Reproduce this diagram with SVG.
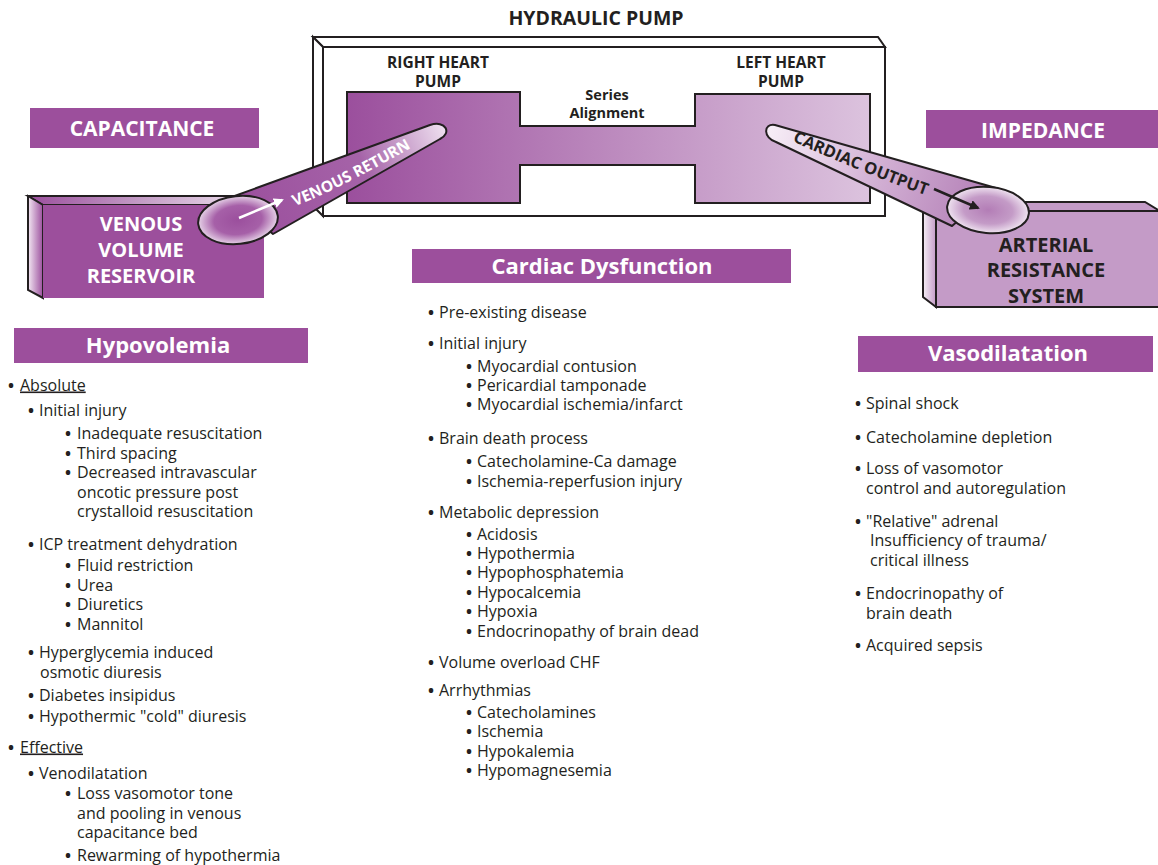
<svg xmlns="http://www.w3.org/2000/svg" width="1158" height="865" viewBox="0 0 1158 865">
<style>
.hdr{fill:#9c4f9c}
.ht{font-family:'Open Sans','Liberation Sans',sans-serif;font-weight:bold;fill:#fff;text-anchor:middle}
.bt{font-family:'Open Sans','Liberation Sans',sans-serif;font-weight:bold;fill:#231f20;text-anchor:middle}
.li{font-family:'Open Sans','Liberation Sans',sans-serif;font-size:16px;fill:#231f20}
.b{font-weight:bold}
.ln{stroke:#231f20;stroke-width:2}
</style>
<defs>
<linearGradient id="pumpG" x1="347" y1="0" x2="870" y2="0" gradientUnits="userSpaceOnUse">
<stop offset="0" stop-color="#9b4f9d"/><stop offset="1" stop-color="#dcc3de"/></linearGradient>
<linearGradient id="vrG" x1="240" y1="220" x2="446" y2="130" gradientUnits="userSpaceOnUse">
<stop offset="0" stop-color="#9b4f9d"/><stop offset="0.6" stop-color="#a563a8"/><stop offset="1" stop-color="#efe0f0"/></linearGradient>
<linearGradient id="coG" x1="768" y1="132" x2="990" y2="210" gradientUnits="userSpaceOnUse">
<stop offset="0" stop-color="#f7eef7"/><stop offset="0.5" stop-color="#d2b0d4"/><stop offset="1" stop-color="#b27db5"/></linearGradient>
<radialGradient id="vEl" cx="0.5" cy="0.5" r="0.5">
<stop offset="0" stop-color="#9b4f9d"/><stop offset="0.6" stop-color="#a660a8"/><stop offset="1" stop-color="#e6d2e7"/></radialGradient>
<radialGradient id="aEl" cx="0.5" cy="0.5" r="0.5">
<stop offset="0" stop-color="#b37db6"/><stop offset="0.6" stop-color="#c49bc7"/><stop offset="1" stop-color="#efe3f0"/></radialGradient>
<linearGradient id="sideV" x1="0" y1="0" x2="1" y2="0">
<stop offset="0" stop-color="#f3e8f3"/><stop offset="1" stop-color="#9b4f9d"/></linearGradient>
<linearGradient id="topV" x1="0" y1="0" x2="1" y2="0">
<stop offset="0" stop-color="#9b4f9d"/><stop offset="0.5" stop-color="#c59fc7"/><stop offset="1" stop-color="#f3e8f3"/></linearGradient>
<linearGradient id="sideA" x1="0" y1="0" x2="1" y2="0">
<stop offset="0" stop-color="#f6eff6"/><stop offset="1" stop-color="#c49bc7"/></linearGradient>
<marker id="arW" viewBox="0 0 10 10" refX="8" refY="5" markerWidth="4" markerHeight="4" orient="auto" markerUnits="strokeWidth">
<path d="M0,0 L10,5 L0,10 Z" fill="#fff"/></marker>
<marker id="arK" viewBox="0 0 10 10" refX="8" refY="5" markerWidth="4" markerHeight="4" orient="auto" markerUnits="strokeWidth">
<path d="M0,0 L10,5 L0,10 Z" fill="#231f20"/></marker>
</defs>
<rect width="1158" height="865" fill="#fff"/>

<g id="hydraulic-pump">
<text class="bt" x="596" y="25" font-size="19.5">HYDRAULIC PUMP</text>
<path d="M313,37 L878,37 L885,47 L323,47 Z" fill="#fff" class="ln"/>
<path d="M313,37 L313,206 L323,216 L323,47 Z" fill="#fff" class="ln"/>
<rect x="323" y="47" width="562" height="169" fill="#fff" class="ln"/>
<path d="M347,92 L520,92 L520,126 L695,126 L695,94 L870,94 L870,203 L695,203 L695,165 L520,165 L520,203 L347,203 Z" fill="url(#pumpG)" class="ln"/>
<text class="bt" x="438" y="68" font-size="15.5">RIGHT HEART</text>
<text class="bt" x="438" y="87" font-size="15.5">PUMP</text>
<text class="bt" x="781" y="68" font-size="15.5">LEFT HEART</text>
<text class="bt" x="781" y="87" font-size="15.5">PUMP</text>
<text class="bt" x="607" y="100" font-size="14.5">Series</text>
<text class="bt" x="607" y="118" font-size="14.5">Alignment</text>
</g>

<g id="capacitance">
<rect class="hdr" x="30" y="108" width="229" height="40"/>
<text class="ht" x="142" y="135.5" font-size="21">CAPACITANCE</text>
</g>
<g id="impedance">
<rect class="hdr" x="926" y="110" width="232" height="38"/>
<text class="ht" x="1043" y="138" font-size="21">IMPEDANCE</text>
</g>

<g id="venous-volume-reservoir">
<path d="M28,196 L250,196 L264,205 L43,205 Z" fill="url(#topV)" class="ln"/>
<path d="M28,196 L43,205 L43,298 L28,290 Z" fill="url(#sideV)" class="ln"/>
<rect x="43" y="205" width="221" height="93" fill="#9c4f9c"/>
<text class="ht" x="141" y="231" font-size="20">VENOUS</text>
<text class="ht" x="141" y="257" font-size="20">VOLUME</text>
<text class="ht" x="141" y="283" font-size="20">RESERVOIR</text>
</g>

<g id="arterial-resistance-system">
<path d="M923,202 L1145,202 L1160,211 L936,211 Z" fill="#c49bc7" class="ln"/>
<path d="M923,202 L936,211 L936,307 L923,297 Z" fill="url(#sideA)" class="ln"/>
<rect x="936" y="211" width="224" height="96" fill="#c49bc7" class="ln"/>
<text class="bt" x="1046" y="252" font-size="20">ARTERIAL</text>
<text class="bt" x="1046" y="277" font-size="20">RESISTANCE</text>
<text class="bt" x="1046" y="303" font-size="20">SYSTEM</text>
</g>

<g id="connectors">
<g id="venous-return">
<path d="M229,198 L430,125 C446,120 452,133 440,139 L273,234 Z" fill="url(#vrG)" class="ln" stroke-linejoin="round"/>
<ellipse cx="238" cy="220" rx="40" ry="24" transform="rotate(-6 238 220)" fill="url(#vEl)" class="ln"/>
<line x1="239" y1="218" x2="282" y2="200" stroke="#fff" stroke-width="2.5" marker-end="url(#arW)"/>
<path id="vrp" d="M279,212 Q333,194 426,139" fill="none"/>
<text class="ht" font-size="15.5"><textPath href="#vrp" startOffset="50%">VENOUS RETURN</textPath></text>
</g>
<g id="cardiac-output">
<path d="M775,125 L996,188 L952,226 L776,142 C763,138 763,123 775,125 Z" fill="url(#coG)" class="ln" stroke-linejoin="round"/>
<ellipse cx="988" cy="210" rx="41" ry="23" transform="rotate(5 988 210)" fill="url(#aEl)" class="ln"/>
<line x1="934" y1="189" x2="978" y2="208" stroke="#231f20" stroke-width="2.5" marker-end="url(#arK)"/>
<path id="cop" d="M781,136 Q866,175 937,199" fill="none"/>
<text class="bt" font-size="16.5"><textPath href="#cop" startOffset="50%">CARDIAC OUTPUT</textPath></text>
</g>
</g>

<g id="cardiac-dysfunction">
<rect class="hdr" x="412" y="249" width="379" height="34"/>
<text class="ht" x="602" y="274" font-size="22">Cardiac Dysfunction</text>
<text class="li"><tspan class="b" x="428" y="317.5">•</tspan><tspan x="439">Pre-existing disease</tspan></text>
<text class="li"><tspan class="b" x="428" y="348.5">•</tspan><tspan x="439">Initial injury</tspan></text>
<text class="li"><tspan class="b" x="466" y="371.5">•</tspan><tspan x="477">Myocardial contusion</tspan></text>
<text class="li"><tspan class="b" x="466" y="390.5">•</tspan><tspan x="477">Pericardial tamponade</tspan></text>
<text class="li"><tspan class="b" x="466" y="409.5">•</tspan><tspan x="477">Myocardial ischemia/infarct</tspan></text>
<text class="li"><tspan class="b" x="428" y="443.5">•</tspan><tspan x="439">Brain death process</tspan></text>
<text class="li"><tspan class="b" x="466" y="466.5">•</tspan><tspan x="477">Catecholamine-Ca damage</tspan></text>
<text class="li"><tspan class="b" x="466" y="486.5">•</tspan><tspan x="477">Ischemia-reperfusion injury</tspan></text>
<text class="li"><tspan class="b" x="428" y="517.5">•</tspan><tspan x="439">Metabolic depression</tspan></text>
<text class="li"><tspan class="b" x="466" y="539.5">•</tspan><tspan x="477">Acidosis</tspan></text>
<text class="li"><tspan class="b" x="466" y="558.5">•</tspan><tspan x="477">Hypothermia</tspan></text>
<text class="li"><tspan class="b" x="466" y="577.5">•</tspan><tspan x="477">Hypophosphatemia</tspan></text>
<text class="li"><tspan class="b" x="466" y="597.5">•</tspan><tspan x="477">Hypocalcemia</tspan></text>
<text class="li"><tspan class="b" x="466" y="616.5">•</tspan><tspan x="477">Hypoxia</tspan></text>
<text class="li"><tspan class="b" x="466" y="636.5">•</tspan><tspan x="477">Endocrinopathy of brain dead</tspan></text>
<text class="li"><tspan class="b" x="428" y="667.5">•</tspan><tspan x="439">Volume overload CHF</tspan></text>
<text class="li"><tspan class="b" x="428" y="695.5">•</tspan><tspan x="439">Arrhythmias</tspan></text>
<text class="li"><tspan class="b" x="466" y="717.5">•</tspan><tspan x="477">Catecholamines</tspan></text>
<text class="li"><tspan class="b" x="466" y="736.5">•</tspan><tspan x="477">Ischemia</tspan></text>
<text class="li"><tspan class="b" x="466" y="756.5">•</tspan><tspan x="477">Hypokalemia</tspan></text>
<text class="li"><tspan class="b" x="466" y="775.5">•</tspan><tspan x="477">Hypomagnesemia</tspan></text>
</g>

<g id="hypovolemia">
<rect class="hdr" x="14" y="328" width="294" height="35"/>
<text class="ht" x="158" y="353" font-size="22">Hypovolemia</text>
<text class="li"><tspan class="b" x="8" y="390.5">•</tspan><tspan x="20" text-decoration="underline">Absolute</tspan></text>
<text class="li"><tspan class="b" x="28" y="415.5">•</tspan><tspan x="39">Initial injury</tspan></text>
<text class="li"><tspan class="b" x="65" y="438.5">•</tspan><tspan x="77">Inadequate resuscitation</tspan></text>
<text class="li"><tspan class="b" x="65" y="458.5">•</tspan><tspan x="77">Third spacing</tspan></text>
<text class="li"><tspan class="b" x="65" y="477.5">•</tspan><tspan x="77">Decreased intravascular</tspan></text>
<text class="li" x="77" y="497.5">oncotic pressure post</text>
<text class="li" x="77" y="516.5">crystalloid resuscitation</text>
<text class="li"><tspan class="b" x="28" y="549.5">•</tspan><tspan x="39">ICP treatment dehydration</tspan></text>
<text class="li"><tspan class="b" x="65" y="570.5">•</tspan><tspan x="77">Fluid restriction</tspan></text>
<text class="li"><tspan class="b" x="65" y="590.5">•</tspan><tspan x="77">Urea</tspan></text>
<text class="li"><tspan class="b" x="65" y="609.5">•</tspan><tspan x="77">Diuretics</tspan></text>
<text class="li"><tspan class="b" x="65" y="629.5">•</tspan><tspan x="77">Mannitol</tspan></text>
<text class="li"><tspan class="b" x="28" y="657.5">•</tspan><tspan x="39">Hyperglycemia induced</tspan></text>
<text class="li" x="40" y="677.5">osmotic diuresis</text>
<text class="li"><tspan class="b" x="28" y="700.5">•</tspan><tspan x="39">Diabetes insipidus</tspan></text>
<text class="li"><tspan class="b" x="28" y="721.5">•</tspan><tspan x="39">Hypothermic "cold" diuresis</tspan></text>
<text class="li"><tspan class="b" x="8" y="752.5">•</tspan><tspan x="20" text-decoration="underline">Effective</tspan></text>
<text class="li"><tspan class="b" x="28" y="778.5">•</tspan><tspan x="39">Venodilatation</tspan></text>
<text class="li"><tspan class="b" x="65" y="798.5">•</tspan><tspan x="77">Loss vasomotor tone</tspan></text>
<text class="li" x="77" y="818.5">and pooling in venous</text>
<text class="li" x="77" y="837.5">capacitance bed</text>
<text class="li"><tspan class="b" x="65" y="860.5">•</tspan><tspan x="77">Rewarming of hypothermia</tspan></text>
</g>

<g id="vasodilatation">
<rect class="hdr" x="858" y="336" width="295" height="36"/>
<text class="ht" x="1008" y="361" font-size="22">Vasodilatation</text>
<text class="li"><tspan class="b" x="855" y="408.5">•</tspan><tspan x="866">Spinal shock</tspan></text>
<text class="li"><tspan class="b" x="855" y="442.5">•</tspan><tspan x="866">Catecholamine depletion</tspan></text>
<text class="li"><tspan class="b" x="855" y="473.5">•</tspan><tspan x="866">Loss of vasomotor</tspan></text>
<text class="li" x="866" y="493.5">control and autoregulation</text>
<text class="li"><tspan class="b" x="855" y="526.5">•</tspan><tspan x="866">"Relative" adrenal</tspan></text>
<text class="li" x="870" y="545.5">Insufficiency of trauma/</text>
<text class="li" x="870" y="565.5">critical illness</text>
<text class="li"><tspan class="b" x="855" y="598.5">•</tspan><tspan x="866">Endocrinopathy of</tspan></text>
<text class="li" x="866" y="618.5">brain death</text>
<text class="li"><tspan class="b" x="855" y="650.5">•</tspan><tspan x="866">Acquired sepsis</tspan></text>
</g>
</svg>
